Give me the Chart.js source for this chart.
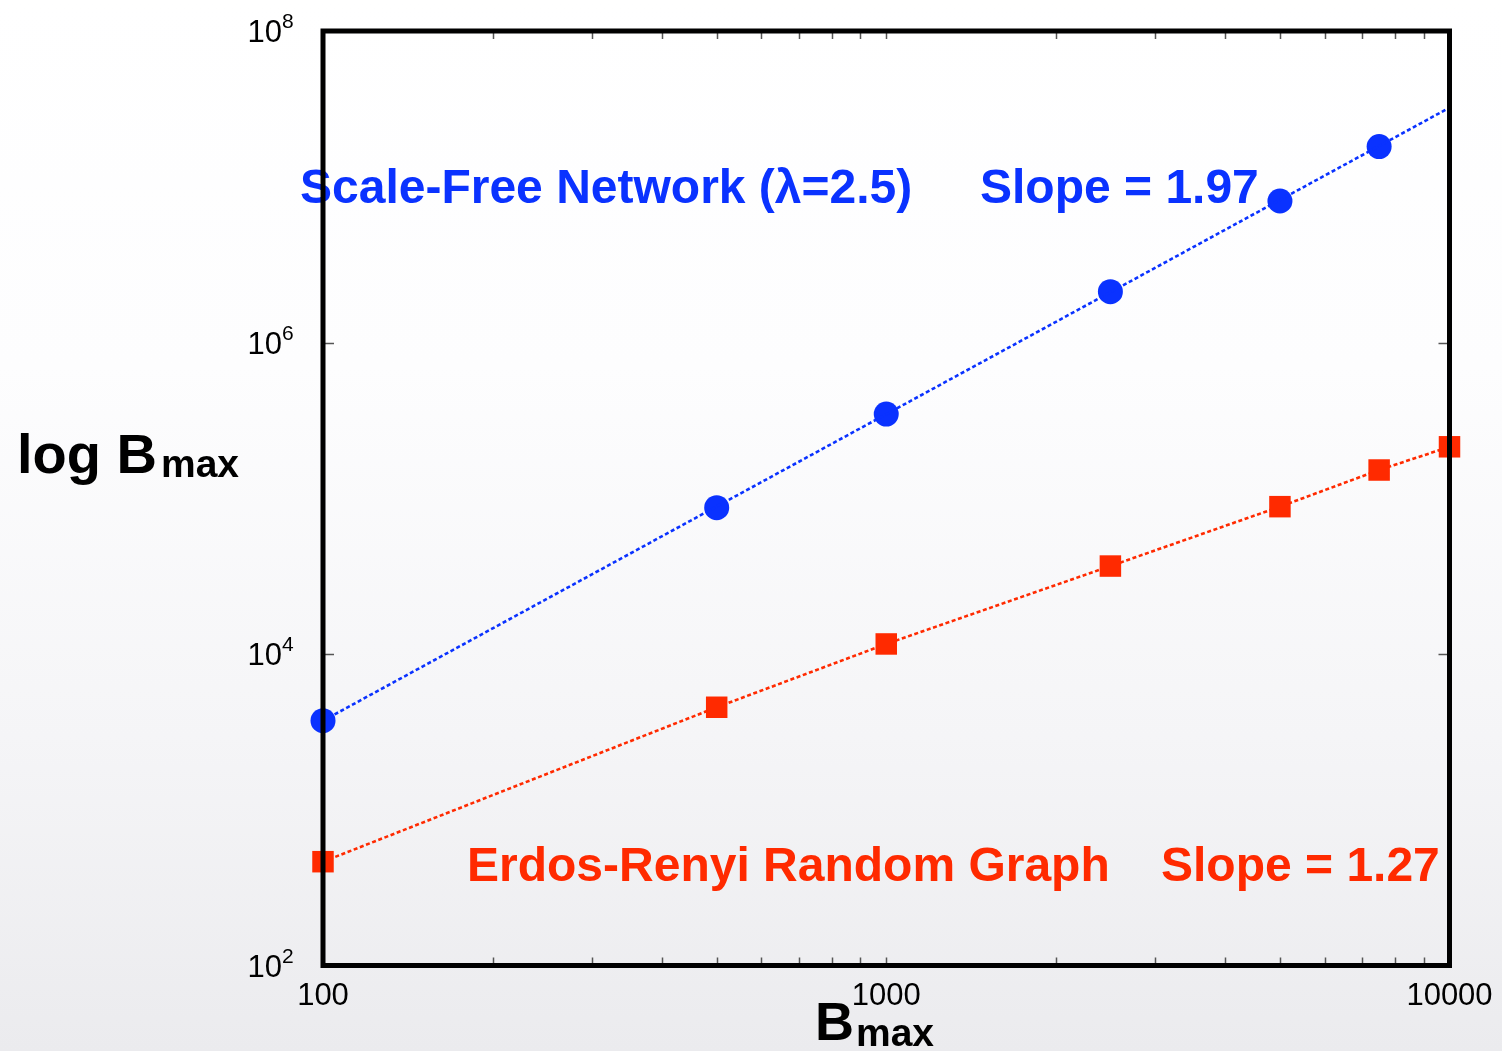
<!DOCTYPE html>
<html>
<head>
<meta charset="utf-8">
<title>Bmax scaling</title>
<script src="https://cdn.jsdelivr.net/npm/chart.js@4.4.1/dist/chart.umd.min.js"></script>
<style>
  html, body { margin: 0; padding: 0; }
  body {
    width: 1502px; height: 1051px; overflow: hidden;
    background: linear-gradient(to bottom, #ffffff 0%, #fdfdfe 35%, #f5f5f7 70%, #ebebee 100%);
  }
  #wrap { position: relative; width: 1502px; height: 1051px; }
</style>
</head>
<body>
<div id="wrap"><canvas id="chart"></canvas></div>
<script>
// values
const sizes = [100, 500, 1000, 2500, 5000, 7500, 10000];
const scaleFree = [3730, 87000, 347000, 2120000, 8100000, 18100000, null];
const erdosRenyi = [464, 4550, 11600, 36700, 88300, 151800, 214000];
const fitX = [100, 10000];
const fitScaleFree = [3730, 32200000];

const xTickLabels = [100, 1000, 10000];
const yTickExps = [2, 4, 6, 8];

const FONT = '"Liberation Sans", Arial, Helvetica, sans-serif';
const BLUE = 'rgb(10, 50, 255)';
const RED = 'rgb(255, 42, 0)';

const toPoints = (xs, ys) => xs.map((x, i) => ({ x: x, y: ys[i] })).filter(p => p.y !== null);

// bold title with a subscript right after it
const drawSub = (ctx, x, y, main, sub, mainSize, subSize, gap, drop) => {
    ctx.font = 'bold ' + mainSize + 'px ' + FONT;
    ctx.textAlign = 'left';
    ctx.textBaseline = 'alphabetic';
    ctx.fillText(main, x, y);
    const w = ctx.measureText(main).width;
    ctx.font = 'bold ' + subSize + 'px ' + FONT;
    ctx.fillText(sub, x + w + gap, y + drop);
}

const decorations = {
    id: 'decorations',
    afterDatasetsDraw(chart) {
        const { ctx, chartArea: a, scales } = chart;
        const xs = scales.x;
        const ys = scales.y;
        ctx.save();

        // notes inside the plot
        ctx.textAlign = 'left';
        ctx.textBaseline = 'alphabetic';
        ctx.font = 'bold 48px ' + FONT;
        ctx.fillStyle = BLUE;
        ctx.fillText('Scale-Free Network (λ=2.5)', 300, 203);
        ctx.fillText('Slope = 1.97', 980, 203);
        ctx.fillStyle = RED;
        ctx.fillText('Erdos-Renyi Random Graph', 467, 881);
        ctx.fillText('Slope = 1.27', 1161, 881);

        // x minor ticks, top and bottom
        ctx.strokeStyle = '#555';
        ctx.lineWidth = 1.5;
        ctx.beginPath();
        for (let d = 100; d < 10000; d *= 10) {
            for (let m = 2; m <= 10; m++) {
                const px = Math.round(xs.getPixelForValue(d * m)) + 0.5;
                ctx.moveTo(px, a.bottom);
                ctx.lineTo(px, a.bottom - 8);
                ctx.moveTo(px, a.top);
                ctx.lineTo(px, a.top + 8);
            }
        }
        yTickExps.forEach(e => {
            const py = Math.round(ys.getPixelForValue(Math.pow(10, e))) + 0.5;
            ctx.moveTo(a.left, py);
            ctx.lineTo(a.left + 11, py);
            ctx.moveTo(a.right, py);
            ctx.lineTo(a.right - 11, py);
        });
        ctx.stroke();

        // frame
        ctx.strokeStyle = '#000';
        ctx.lineWidth = 5;
        ctx.strokeRect(a.left, a.top, a.right - a.left, a.bottom - a.top);

        // tick labels
        ctx.fillStyle = '#000';
        ctx.font = '31px ' + FONT;
        ctx.textAlign = 'center';
        xTickLabels.forEach(v => {
            ctx.fillText(String(v), xs.getPixelForValue(v), 1005);
        });
        yTickExps.forEach(e => {
            const py = ys.getPixelForValue(Math.pow(10, e));
            ctx.font = '31px ' + FONT;
            ctx.textAlign = 'right';
            ctx.fillText('10', 282, py + 11);
            ctx.font = '21px ' + FONT;
            ctx.textAlign = 'left';
            ctx.fillText(String(e), 282, py - 3);
        });

        // axis titles
        drawSub(ctx, 17, 473, 'log B', 'max', 56, 39, 4, 4);
        drawSub(ctx, 815, 1040, 'B', 'max', 54, 39, 2, 6);

        ctx.restore();
    }
};

new Chart(document.getElementById('chart'), {
    type: 'scatter',
    data: {
        datasets: [
            {
                label: 'Scale-Free fit',
                data: toPoints(fitX, fitScaleFree),
                showLine: true,
                borderColor: BLUE,
                borderWidth: 2.6,
                borderDash: [4, 2.6],
                pointRadius: 0,
                clip: false
            },
            {
                label: 'Scale-Free Network',
                data: toPoints(sizes, scaleFree),
                showLine: false,
                pointStyle: 'circle',
                pointRadius: 12.5,
                pointBorderWidth: 0,
                backgroundColor: BLUE,
                borderColor: BLUE,
                clip: false
            },
            {
                label: 'Erdos-Renyi Random Graph',
                data: toPoints(sizes, erdosRenyi),
                showLine: true,
                borderColor: RED,
                backgroundColor: RED,
                borderWidth: 2.6,
                borderDash: [4, 2.6],
                pointStyle: 'rect',
                pointRadius: 15.2,
                pointBorderWidth: 0,
                clip: false
            }
        ]
    },
    options: {
        responsive: true,
        maintainAspectRatio: false,
        animation: false,
        events: [],
        layout: { padding: { left: 323, right: 52.5, top: 31, bottom: 85.5 } },
        plugins: {
            legend: { display: false },
            tooltip: { enabled: false }
        },
        scales: {
            x: { type: 'logarithmic', min: 100, max: 10000, display: false },
            y: { type: 'logarithmic', min: 100, max: 100000000, display: false }
        }
    },
    plugins: [decorations]
});
</script>
</body>
</html>
